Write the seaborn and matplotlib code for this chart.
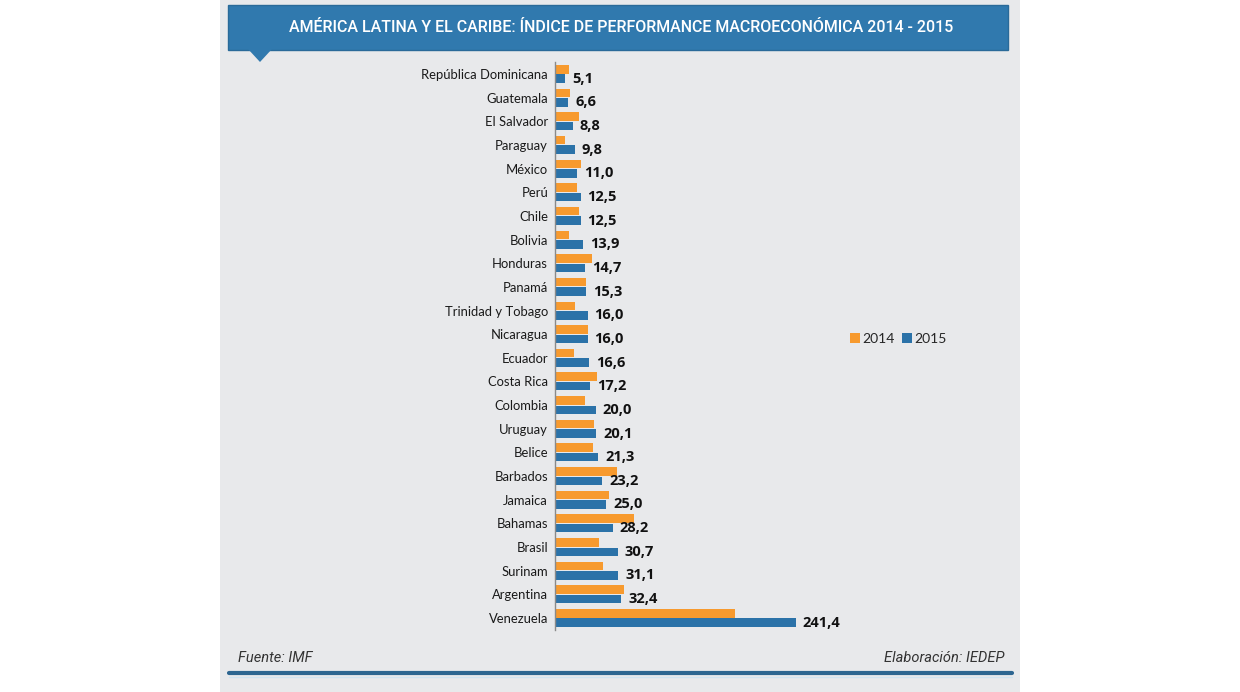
import numpy as np
import pandas as pd
import matplotlib
matplotlib.use("Agg")
import matplotlib.pyplot as plt
import seaborn as sns
from matplotlib.patches import Rectangle, Polygon
from matplotlib.lines import Line2D

# --------------------------------------------------
# Data
# --------------------------------------------------
countries = ["República Dominicana", "Guatemala", "El Salvador", "Paraguay", "México",
             "Perú", "Chile", "Bolivia", "Honduras", "Panamá", "Trinidad y Tobago",
             "Nicaragua", "Ecuador", "Costa Rica", "Colombia", "Uruguay", "Belice",
             "Barbados", "Jamaica", "Bahamas", "Brasil", "Surinam", "Argentina", "Venezuela"]
values_2014 = [6.9, 7.3, 12.0, 5.1, 12.5, 10.9, 11.8, 6.8, 18.3, 15.0, 9.8, 16.3,
               9.4, 20.6, 14.6, 19.0, 18.7, 30.6, 26.5, 38.7, 21.5, 23.3, 33.8, 88.3]
values_2015 = [5.1, 6.6, 8.8, 9.8, 11.0, 12.5, 12.5, 13.9, 14.7, 15.3, 16.0, 16.0,
               16.6, 17.2, 20.0, 20.1, 21.3, 23.2, 25.0, 28.2, 30.7, 31.1, 32.4, 241.4]
years = ["2014", "2015"]
title = "AMÉRICA LATINA Y EL CARIBE: ÍNDICE DE PERFORMANCE MACROECONÓMICA 2014 - 2015"
source = "Fuente: IMF"
credit = "Elaboración: IEDEP"

# the original chart cuts the Venezuela 2015 bar short
BAR_CAP = 118

ORANGE = "#f79a2e"
BLUE = "#2b72a8"
BANNER = "#3079ae"
PANEL = "#e8e9eb"

W, H = 1240, 692


def fx(x):
    return x / W


def fy(y):
    return 1 - y / H


df = pd.DataFrame({
    "country": countries * 2,
    "year": [years[0]] * len(countries) + [years[1]] * len(countries),
    "value": values_2014 + values_2015,
})
df["shown"] = np.minimum(df["value"], BAR_CAP)

# --------------------------------------------------
# Figure
# --------------------------------------------------
sns.set_theme(style="white")
plt.rcParams["font.family"] = ["Lato", "DejaVu Sans"]

fig = plt.figure(figsize=(12.4, 6.92), dpi=100, facecolor="white")

# gray panel
fig.add_artist(Rectangle((fx(220), 0), fx(1020) - fx(220), 1, transform=fig.transFigure,
                         facecolor=PANEL, edgecolor="none", zorder=0))
# title banner + pointer
fig.add_artist(Rectangle((fx(228), fy(50)), fx(1008) - fx(228), fy(5) - fy(50),
                         transform=fig.transFigure, facecolor=BANNER,
                         edgecolor="#2a6a99", lw=1, zorder=1))
fig.add_artist(Polygon([(fx(248), fy(49)), (fx(272), fy(49)), (fx(260), fy(62))],
                       closed=True, transform=fig.transFigure, facecolor=BANNER,
                       edgecolor="none", zorder=1))
title_txt = fig.text(fx(621), fy(28), title, color="white", ha="center", va="center",
                     fontsize=15, fontweight="medium", family=["Roboto", "DejaVu Sans"],
                     zorder=2)

# footer
fig.text(fx(238), fy(658), source, ha="left", va="center", fontsize=10.5,
         style="italic", color="#333333", family=["Roboto", "DejaVu Sans"])
fig.text(fx(1005), fy(658), credit, ha="right", va="center", fontsize=10.5,
         style="italic", color="#333333", family=["Roboto", "DejaVu Sans"])
fig.add_artist(Line2D([fx(229), fx(1012)], [fy(673), fy(673)], transform=fig.transFigure,
                      color="#2c6590", lw=3, zorder=2))
fig.add_artist(Line2D([fx(229), fx(1012)], [fy(676.5), fy(676.5)], transform=fig.transFigure,
                      color="#cfe3f0", lw=1, zorder=2))

# --------------------------------------------------
# Bars
# --------------------------------------------------
row = 23.65
ax_top = 74 - row / 2
ax_bot = 618 + row / 2
ax = fig.add_axes([fx(555), fy(ax_bot), fx(1000) - fx(555), fy(ax_top) - fy(ax_bot)])
ax.set_facecolor("none")

sns.barplot(data=df, y="country", x="shown", hue="year", order=countries,
            hue_order=years, palette=[ORANGE, BLUE], saturation=1, width=0.8, gap=0.1,
            orient="h", ax=ax, legend=True, linewidth=0, edgecolor="none")

ax.set_xlim(0, 445 / 2.04)
ax.set_xlabel("")
ax.set_ylabel("")
ax.set_xticks([])
for side in ["top", "right", "bottom"]:
    ax.spines[side].set_visible(False)
ax.spines["left"].set_color("#8a8a8a")
ax.spines["left"].set_linewidth(1)
ax.tick_params(axis="y", length=0, pad=5, labelsize=9.4, labelcolor="#1a1a1a")

ax.bar_label(ax.containers[1], labels=[f"{v:.1f}".replace(".", ",") for v in values_2015],
             padding=5, fontsize=10.5, fontweight="bold", color="#111111",
             family=["Open Sans", "DejaVu Sans"])

handles, labels = ax.get_legend_handles_labels()
ax.legend(handles, labels, loc="center left", bbox_to_anchor=(fx(850), fy(339)),
          bbox_transform=fig.transFigure, ncol=2, frameon=False, handlelength=0.7,
          handleheight=0.7, handletextpad=0.2, columnspacing=0.5, fontsize=10,
          borderaxespad=0, borderpad=0)

# fit the title inside the banner width
fig.canvas.draw()
bb = title_txt.get_window_extent()
target = 955 - 288
title_txt.set_fontsize(15 * target / bb.width)

fig.savefig("out.png", dpi=100, facecolor="white")
